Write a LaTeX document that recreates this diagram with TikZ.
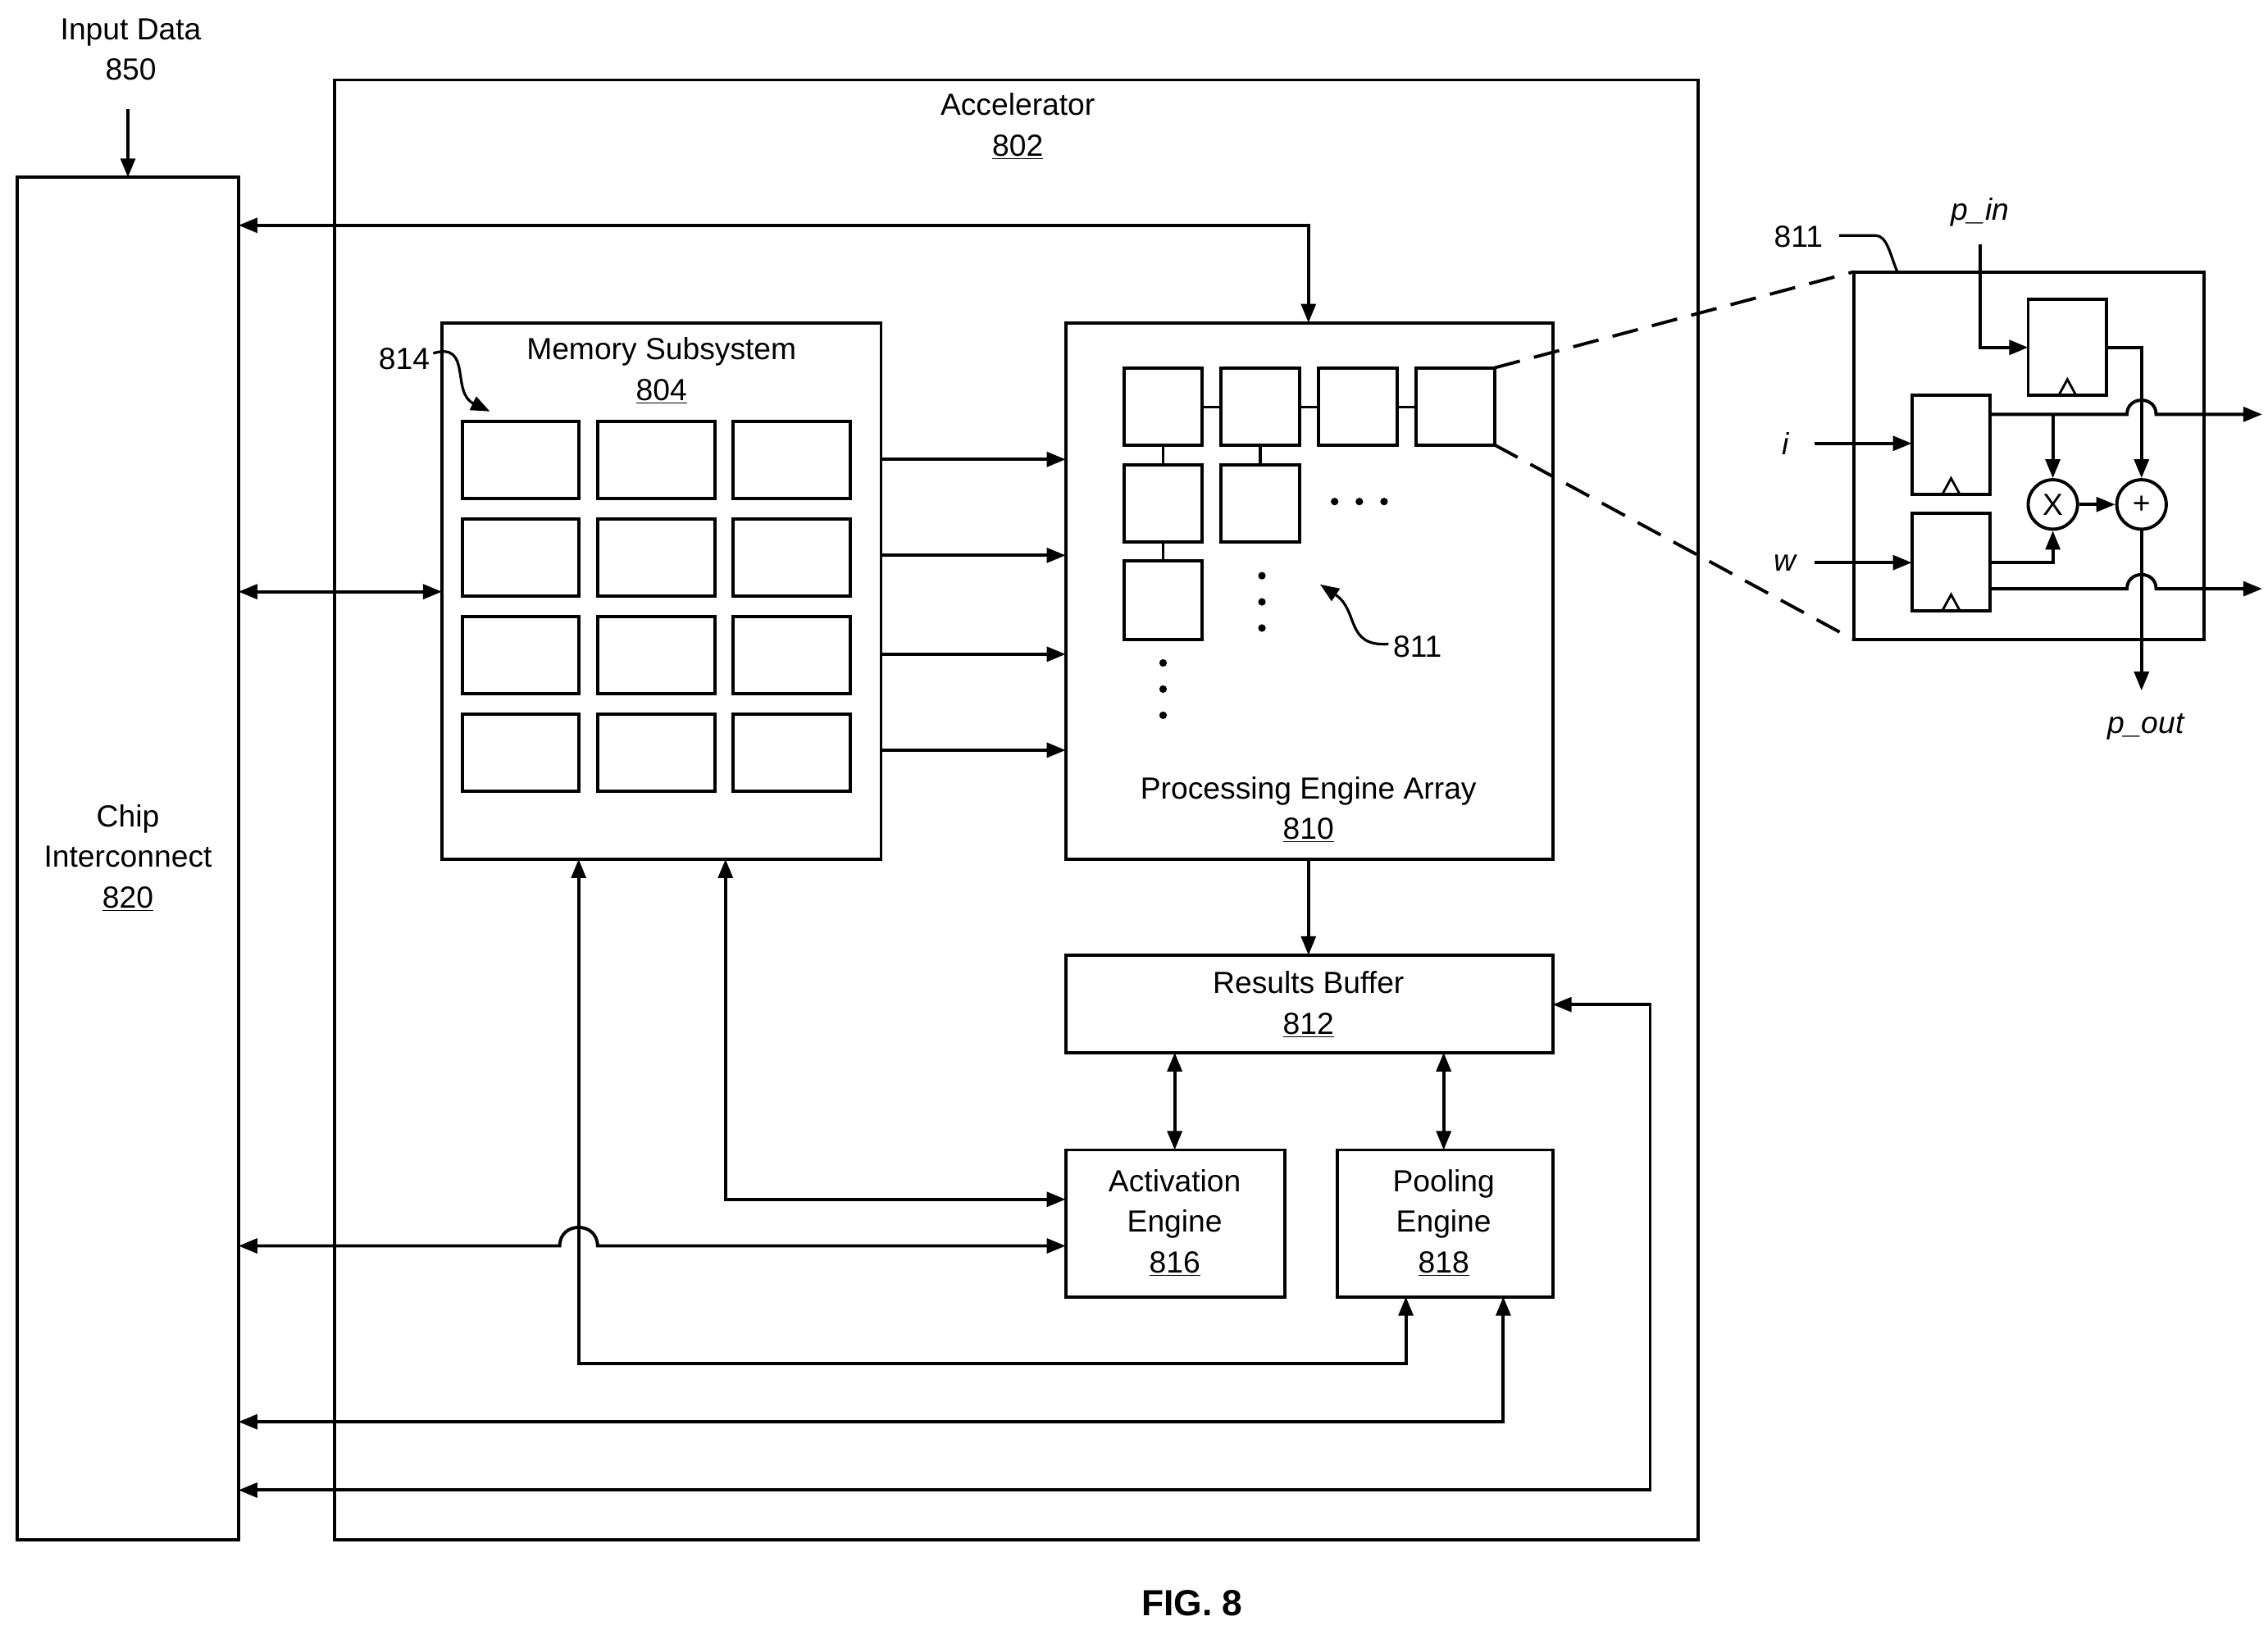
\documentclass[tikz,border=0pt]{standalone}
\usepackage{fontspec}
\setmainfont{Liberation Sans}
\usetikzlibrary{arrows.meta}
\begin{document}
\begin{tikzpicture}[x=1pt,y=-1pt,line width=2.2pt,
  every node/.style={font=\fontsize{21}{25}\selectfont,align=center},
  box/.style={draw,line width=2.2pt},
  arr/.style={-{Triangle[length=13pt,width=10pt]}},
  darr/.style={{Triangle[length=13pt,width=10pt]}-{Triangle[length=13pt,width=10pt]}},
  lbl/.style={inner sep=0pt}]
\useasboundingbox (0,0) rectangle (1560,1121);
% chip interconnect
\draw[box] (12,122) rectangle (164,1059);
\node[lbl] (chip) at (88,590) {Chip\\[3pt]Interconnect\\[3pt]\underline{820}};
\node[lbl] (inp) at (90,34) {Input Data\\[3pt]850};
\coordinate (inA) at (88,75); \coordinate (inB) at (88,122);
\draw[arr] (inA) -- (inB);
% accelerator
\draw[box] (230,55) rectangle (1168,1059);
\node[lbl] (acc) at (700,87) {Accelerator\\[3pt]\underline{802}};
% memory
\draw[box] (304,222) rectangle (606,591);
\node[lbl] (mem) at (455,255) {Memory Subsystem\\[3pt]\underline{804}};
\foreach \x/\xx in {318/398,411/492,504/585}
 \foreach \y/\yy in {290/343,357/410,424/477,491/544}
  \draw[box] (\x,\y) rectangle (\xx,\yy);
\node[lbl] (l814) at (278,247) {814};
\coordinate (c814) at (337,283);
\draw[arr,line width=1.8pt] (298,243) .. controls (325,235) and (310,270) .. (c814);
% PE array
\draw[box] (733,222) rectangle (1068,591);
\node[lbl] (pea) at (900,557) {Processing Engine Array\\[3pt]\underline{810}};
\foreach \x in {773,840,907,974} \draw[box] (\x,253) rectangle +(54,53);
\draw (827,280)--(840,280) (894,280)--(907,280) (961,280)--(974,280);
\draw[box] (773,320) rectangle +(54,53);
\draw[box] (840,320) rectangle +(54,53);
\draw[box] (773,386) rectangle +(54,54);
\draw (800,306)--(800,320) (867,306)--(867,320) (800,373)--(800,386);
\foreach \p in {(918,345),(935,345),(952,345),(868,396),(868,414),(868,432),(800,456),(800,474),(800,492)} \fill \p circle (2.6);
\node[lbl] (l811) at (975,445) {811};
\coordinate (c811) at (908,402);
\draw[arr,line width=1.8pt] (955,443) .. controls (925,445) and (935,420) .. (c811);
% mem -> PE
\foreach \y in {316,382,450,516} \draw[arr] (606,\y) -- (733,\y);
% chip <-> PE top
\draw[darr] (164,155) -- (900,155) -- (900,222);
\draw[darr] (164,407) -- (304,407);
% results buffer
\draw[box] (733,657) rectangle (1068,724);
\node[lbl] (rb) at (900,691) {Results Buffer\\[3pt]\underline{812}};
\draw[arr] (900,591) -- (900,657);
% engines
\draw[box] (733,791) rectangle (884,892);
\node[lbl] (act) at (808,841) {Activation\\[3pt]Engine\\[3pt]\underline{816}};
\draw[box] (920,791) rectangle (1068,892);
\node[lbl] (pool) at (993,841) {Pooling\\[3pt]Engine\\[3pt]\underline{818}};
\draw[darr] (808,724) -- (808,791);
\draw[darr] (993,724) -- (993,791);
\draw[darr] (499,591) -- (499,825) -- (733,825);
\draw[darr] (164,857) -- (385,857) .. controls (385,840) and (411,840) .. (411,857) -- (733,857);
\draw[darr] (398,591) -- (398,938) -- (967,938) -- (967,892);
\draw[darr] (1034,892) -- (1034,978) -- (164,978);
\draw[darr] (1068,691) -- (1135,691) -- (1135,1025) -- (164,1025);
\node[lbl,font=\bfseries\fontsize{25}{30}\selectfont] (fig) at (820,1103) {FIG. 8};
% detail
\draw[box] (1275,187) rectangle (1516,440);
\draw[dash pattern=on 18pt off 10pt] (1028,253) -- (1275,187);
\draw[dash pattern=on 18pt off 10pt] (1028,306) -- (1275,440);
\node[lbl] (d811) at (1237,163) {811};
\draw[line width=1.8pt] (1265,162) -- (1290,162) .. controls (1298,162) and (1300,175) .. (1305,187);
\node[lbl,font=\itshape\fontsize{21}{25}\selectfont] (pin) at (1362,146) {p\_in};
\node[lbl,font=\itshape\fontsize{21}{25}\selectfont] (iin) at (1228,305) {i};
\node[lbl,font=\itshape\fontsize{21}{25}\selectfont] (win) at (1228,387) {w};
\node[lbl,font=\itshape\fontsize{21}{25}\selectfont] (pout) at (1476,500) {p\_out};
\foreach \x/\y/\yy in {1395/206/272,1315/272/340,1315/353/420}{
 \draw[box] (\x,\y) rectangle (\x+54,\yy);
 \draw[line width=1.6pt] (\x+21,\yy) -- (\x+27,\yy-11) -- (\x+33,\yy);}
\draw[arr] (1362,168) -- (1362,239) -- (1395,239);
\draw[arr] (1248,305) -- (1315,305);
\draw[arr] (1248,387) -- (1315,387);
\node[draw,circle,line width=2.2pt,minimum size=34pt,inner sep=0pt] (mul) at (1412,347) {X};
\node[draw,circle,line width=2.2pt,minimum size=34pt,inner sep=0pt] (add) at (1473,347) {+};
\draw[arr] (1449,239) -- (1473,239) -- (add.north);
\draw[arr] (1369,285) -- (1463,285) .. controls (1463,272) and (1483,272) .. (1483,285) -- (1556,285);
\draw[arr] (1412,285) -- (mul.north);
\draw[arr] (1369,387) -- (1412,387) -- (mul.south);
\draw[arr] (1369,405) -- (1463,405) .. controls (1463,392) and (1483,392) .. (1483,405) -- (1556,405);
\draw[arr] (mul.east) -- (add.west);
\draw[arr] (add.south) -- (1473,475);
\end{tikzpicture}
\end{document}
